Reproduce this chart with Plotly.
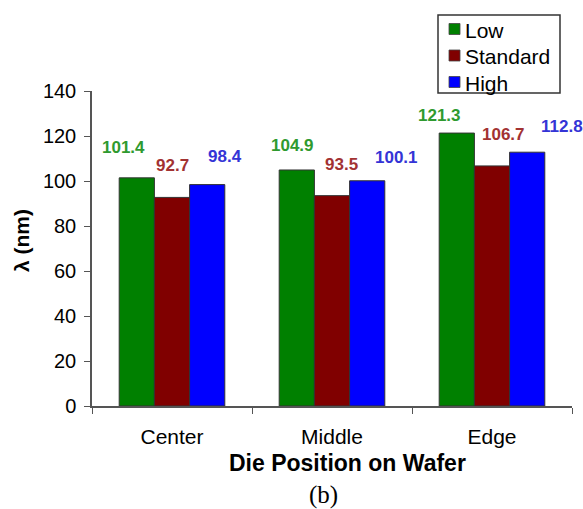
import plotly.graph_objects as go

# Data
positions = ["Center", "Middle", "Edge"]
series_names = ["Low", "Standard", "High"]
low = [101.4, 104.9, 121.3]
standard = [92.7, 93.5, 106.7]
high = [98.4, 100.1, 112.8]
y_ticks = [0, 20, 40, 60, 80, 100, 120, 140]

# Styling
bar_colors = ["#008000", "#800000", "#0000FF"]
label_colors = ["#2f9a2f", "#a23232", "#3434d6"]
# pixel offsets of each value label relative to its bar top centre (dx, dy)
label_offsets = [
    [(-13, 30), (-4, 24), (-17, 18)],
    [(0, 32), (9, 31), (11, 31)],
    [(18, 28), (29, 23), (35, 26)],
]
FONT = "Liberation Sans, Arial, sans-serif"
BARGAP = 0.34
W, H = 583, 509
ML, MR, MT, MB = 92, 11, 91, 103
PW, PH = W - ML - MR, H - MT - MB


def px(x, y):
    """pixel position -> paper coordinates"""
    return (x - ML) / PW, (H - MB - y) / PH


values = [low, standard, high]

fig = go.Figure()
for name, vals, col in zip(series_names, values, bar_colors):
    fig.add_trace(go.Bar(
        x=positions, y=vals, name=name, showlegend=False,
        marker=dict(color=col, line=dict(color="#333333", width=1)),
    ))

# value labels above the bars
w = (1 - BARGAP) / len(series_names)
annotations = []
for j, vals in enumerate(values):
    for i, v in enumerate(vals):
        dx, dy = label_offsets[j][i]
        annotations.append(dict(
            x=i + (j - 1) * w, y=v, xref="x", yref="y",
            text=f"<b>{v:.1f}</b>", showarrow=False,
            xanchor="center", yanchor="middle",
            xshift=dx, yshift=dy,
            font=dict(family=FONT, size=17, color=label_colors[j]),
        ))

# axis titles and caption
tx, ty = px(347, 463)
bx, by = px(323, 495)
yx, yy = px(21, 241)
annotations += [
    dict(x=tx, y=ty, xref="paper", yref="paper",
         text="<b>Die Position on Wafer</b>", showarrow=False,
         xanchor="center", yanchor="middle",
         font=dict(family=FONT, size=23, color="black")),
    dict(x=bx, y=by, xref="paper", yref="paper",
         text="(b)", showarrow=False, xanchor="center", yanchor="middle",
         font=dict(family="Liberation Serif, Times New Roman, serif", size=25, color="black")),
    dict(x=yx, y=yy, xref="paper", yref="paper",
         text="<b>λ (nm)</b>", showarrow=False, textangle=-90,
         xanchor="center", yanchor="middle",
         font=dict(family=FONT, size=21, color="black")),
]

# legend box drawn by hand: frame, colour swatches and names
shapes = []
x0, y0 = px(438, 15)
x1, y1 = px(560, 93)
shapes.append(dict(type="rect", xref="paper", yref="paper",
                   x0=x0, y0=y1, x1=x1, y1=y0,
                   line=dict(color="#333333", width=1.5), fillcolor="white"))
for k, (name, col) in enumerate(zip(series_names, bar_colors)):
    cy = 29 + k * 26.5
    sx0, sy0 = px(449, cy - 5.5)
    sx1, sy1 = px(460, cy + 5.5)
    shapes.append(dict(type="rect", xref="paper", yref="paper",
                       x0=sx0, y0=sy1, x1=sx1, y1=sy0,
                       line=dict(color="#444444", width=0.8), fillcolor=col))
    lx, ly = px(463, cy + 1)
    annotations.append(dict(x=lx, y=ly, xref="paper", yref="paper",
                            text=name, showarrow=False,
                            xanchor="left", yanchor="middle",
                            font=dict(family=FONT, size=21, color="black")))

fig.update_layout(
    width=W, height=H,
    margin=dict(l=ML, r=MR, t=MT, b=MB),
    paper_bgcolor="white", plot_bgcolor="white",
    barmode="group", bargap=BARGAP, bargroupgap=0,
    font=dict(family=FONT, color="black"),
    annotations=annotations, shapes=shapes,
    showlegend=False,
)
fig.update_xaxes(
    range=[-0.5, len(positions) - 0.5],
    showline=True, linecolor="#555555", linewidth=1.5,
    ticks="outside", tickson="boundaries", ticklen=6, tickcolor="#555555",
    tickfont=dict(family=FONT, size=21, color="black"),
    ticklabelstandoff=11,
    showgrid=False, zeroline=False,
)
fig.update_yaxes(
    range=[0, 140], tickvals=y_ticks,
    showline=True, linecolor="#555555", linewidth=1.5,
    ticks="outside", ticklen=6, tickcolor="#555555",
    tickfont=dict(family=FONT, size=20, color="black"),
    ticklabelstandoff=4,
    showgrid=False, zeroline=False,
)

fig.write_html("out.html")
